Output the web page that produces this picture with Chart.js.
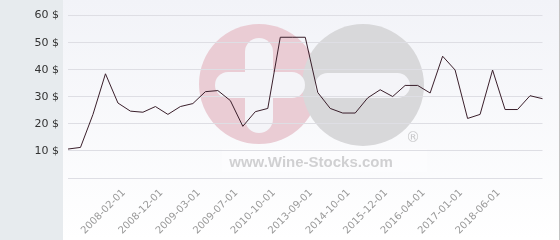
<!DOCTYPE html>
<html>
<head>
<meta charset="utf-8">
<script src="https://cdn.jsdelivr.net/npm/chart.js@4"></script>
<style>
html,body{margin:0;padding:0;background:#fff;}
#wrap{position:relative;width:560px;height:240px;overflow:hidden;}
#left{position:absolute;left:0;top:0;width:63px;height:240px;background:#e7ebee;}
#right{position:absolute;left:63px;top:0;width:496px;height:240px;background:linear-gradient(#f2f3f8,#ffffff);border-right:1px solid #c4c4c4;}
canvas{position:absolute;left:0;top:0;}
</style>
</head>
<body>
<div id="wrap">
<div id="left"></div>
<div id="right"></div>
<canvas id="c" width="560" height="240"></canvas>
</div>
<script>
const categories = ['', '', '', '', '2008-02-01', '', '', '2008-12-01', '', '', '2009-03-01', '', '', '2009-07-01', '', '', '2010-10-01', '', '', '2013-09-01', '', '', '2014-10-01', '', '', '2015-12-01', '', '', '2016-04-01', '', '', '2017-01-01', '', '', '2018-06-01', '', '', '', ''];
const prices = [10.7, 11.3, 23.5, 38.5, 27.7, 24.7, 24.3, 26.4, 23.5, 26.4, 27.5, 31.9, 32.3, 28.6, 19.1, 24.5, 25.7, 52.0, 52.0, 52.0, 31.6, 25.7, 24.0, 24.0, 29.6, 32.6, 30.1, 34.2, 34.2, 31.4, 45.0, 39.9, 22.0, 23.5, 39.9, 25.3, 25.3, 30.4, 29.3];
const yTicks = [0, 10, 20, 30, 40, 50, 60];
const watermarkText = 'www.Wine-Stocks.com';

function rr(ctx, x, y, w, h, r) {
  ctx.beginPath();
  ctx.moveTo(x + r, y);
  ctx.lineTo(x + w - r, y);
  ctx.arc(x + w - r, y + r, r, -Math.PI / 2, 0);
  ctx.lineTo(x + w, y + h - r);
  ctx.arc(x + w - r, y + h - r, r, 0, Math.PI / 2);
  ctx.lineTo(x + r, y + h);
  ctx.arc(x + r, y + h - r, r, Math.PI / 2, Math.PI);
  ctx.lineTo(x, y + r);
  ctx.arc(x + r, y + r, r, Math.PI, Math.PI * 1.5);
  ctx.closePath();
}

const watermark = {
  id: 'watermark',
  beforeDraw(chart) {
    const ctx = chart.ctx;
    ctx.save();
    ctx.fillStyle = '#eaccd4';
    ctx.beginPath(); ctx.arc(259, 84, 60, 0, Math.PI * 2); ctx.fill();
    ctx.fillStyle = '#d8d8da';
    ctx.beginPath(); ctx.arc(363, 85, 61, 0, Math.PI * 2); ctx.fill();
    ctx.fillStyle = '#f4f4f8';
    rr(ctx, 245, 38, 28, 95, 14); ctx.fill();
    rr(ctx, 215, 72, 90, 26, 13); ctx.fill();
    rr(ctx, 315, 73, 95, 25, 12.5); ctx.fill();
    ctx.fillStyle = 'rgba(255,255,255,0.4)';
    ctx.fillRect(222, 149, 205, 23);
    ctx.fillStyle = '#d0d0d2';
    ctx.font = 'bold 15px "Liberation Sans", Arial, sans-serif';
    ctx.textAlign = 'center';
    ctx.textBaseline = 'alphabetic';
    ctx.fillText(watermarkText, 311, 166.5);
    ctx.fillStyle = '#c9c9cb';
    ctx.font = '14px "DejaVu Sans", sans-serif';
    ctx.textBaseline = 'middle';
    ctx.fillText('\u00AE', 413, 138);
    ctx.restore();
  }
};

new Chart(document.getElementById('c'), {
  type: 'line',
  data: {
    labels: categories,
    datasets: [{
      data: prices,
      borderColor: '#3a1f2b',
      borderWidth: 1,
      pointRadius: 0,
      tension: 0,
      fill: false
    }]
  },
  options: {
    responsive: false,
    animation: false,
    events: [],
    layout: { padding: { top: 13, right: 5, left: 0, bottom: 0 } },
    plugins: { legend: { display: false }, tooltip: { enabled: false } },
    scales: {
      x: {
        offset: false,
        grid: { display: false, drawTicks: false },
        border: { display: false },
        ticks: {
          autoSkip: false,
          minRotation: 45,
          maxRotation: 45,
          padding: 9,
          labelOffset: 6,
          color: '#999999',
          font: { family: '"DejaVu Sans"', size: 10 }
        },
        afterFit(scale) { scale.height = 62; }
      },
      y: {
        min: 0,
        max: 60,
        afterBuildTicks(scale) { scale.ticks = yTicks.map(v => ({ value: v })); },
        grid: { color: '#dedee4', drawTicks: false, lineWidth: 1 },
        border: { display: false },
        ticks: {
          padding: 9,
          color: '#333333',
          font: { family: '"DejaVu Sans"', size: 11 },
          callback: v => v === 0 ? '' : v + ' $'
        },
        afterFit(scale) { scale.width = 68; }
      }
    }
  },
  plugins: [watermark]
});
</script>
</body>
</html>
